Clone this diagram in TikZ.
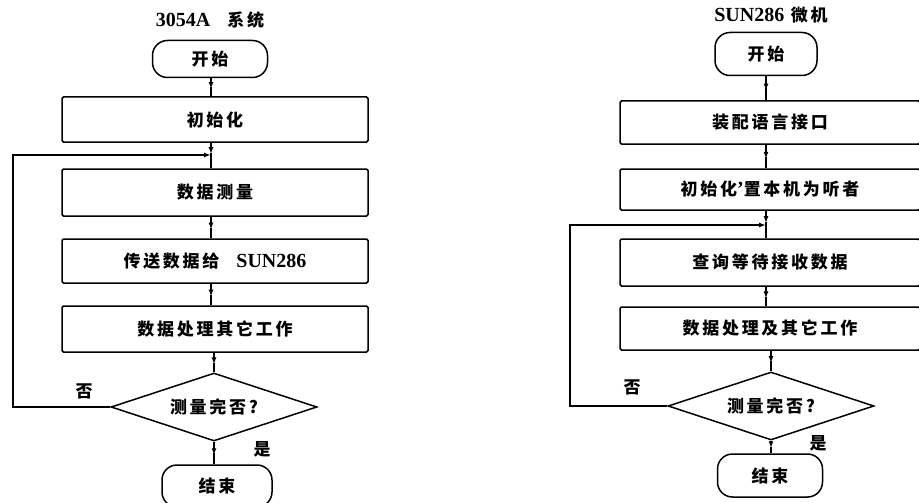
\documentclass[tikz,border=0pt]{standalone}
\usepackage{fontspec}
\setmainfont{Liberation Serif}
\newfontfamily\cjk{Noto Sans CJK SC}[LetterSpace=16]
\newcommand\lat{\rmfamily\bfseries\fontsize{20}{22}\selectfont}
\usetikzlibrary{shapes.geometric,arrows.meta,calc}
\begin{document}
\begin{tikzpicture}[x=1pt,y=-1pt,
  lw/.style={line width=1.5pt},
  txt/.style={font=\cjk\bfseries\fontsize{17}{19}\selectfont, inner sep=1pt},
  term/.style={txt, draw, lw, rounded corners=15pt},
  box/.style={txt, draw, lw, rounded corners=1.5pt},
  dec/.style={txt, draw, lw, shape=diamond, shape aspect=3, inner sep=2pt,
              minimum width=206pt, minimum height=68pt},
  half/.style={lw, -{Latex[length=7pt,width=5pt]}},
  loop/.style={lw, -{Latex[length=7pt,width=5pt]}},
  lbl/.style={font=\cjk\bfseries\fontsize{17}{19}\selectfont, inner sep=0pt},
  ttl/.style={font=\cjk\bfseries\fontsize{17}{19}\selectfont, inner sep=0pt}]
\useasboundingbox (0,0) rectangle (919,503);

% ---------------- left flowchart ----------------
\node[ttl] (LT) at (210,20) {{\lat 3054A}\quad 系统};
\node[term, minimum width=115pt, minimum height=37pt] (L0) at (210,59) {开始};
\node[box, minimum width=306pt, minimum height=45pt] (L1) at (215,119.5) {初始化};
\node[box, minimum width=306pt, minimum height=47pt] (L2) at (215,192.5) {数据测量};
\node[box, minimum width=306pt, minimum height=44pt] (L3) at (215,261) {传送数据给\quad{\lat SUN286}};
\node[box, minimum width=306pt, minimum height=46pt] (L4) at (215,329) {数据处理其它工作};
\node[dec] (L5) at (214,407) {测量完否?};
\node[term, minimum width=110pt, minimum height=42pt] (L6) at (217,486) {结束};
\node[lbl] (Lno) at (84,391) {否};
\node[lbl] (Lyes) at (262,449) {是};
\coordinate (LJ) at (211,155);
\coordinate (LC1) at (13,155);

\draw[half] (L0.south -| LJ) -- ($(L0.south -| LJ)!0.6!(L1.north -| LJ)$);
\draw[lw] ($(L0.south -| LJ)!0.5!(L1.north -| LJ)$) -- (L1.north -| LJ);
\draw[half] (L1.south -| LJ) -- ($(L1.south -| LJ)!0.45!(L2.north -| LJ)$);
\draw[lw] ($(L1.south -| LJ)!0.4!(L2.north -| LJ)$) -- (L2.north -| LJ);
\draw[half] (L2.south -| LJ) -- ($(L2.south -| LJ)!0.6!(L3.north -| LJ)$);
\draw[lw] ($(L2.south -| LJ)!0.5!(L3.north -| LJ)$) -- (L3.north -| LJ);
\draw[half] (L3.south -| LJ) -- ($(L3.south -| LJ)!0.6!(L4.north -| LJ)$);
\draw[lw] ($(L3.south -| LJ)!0.5!(L4.north -| LJ)$) -- (L4.north -| LJ);
\draw[half] (L4.south -| L5.north) -- ($(L4.south -| L5.north)!0.6!(L5.north)$);
\draw[lw] ($(L4.south -| L5.north)!0.5!(L5.north)$) -- (L5.north);
\draw[half] (L5.south) -- ($(L5.south)!0.6!(L5.south |- L6.north)$);
\draw[lw] ($(L5.south)!0.5!(L5.south |- L6.north)$) -- (L5.south |- L6.north);
\draw[loop] (L5.west) -- (L5.west -| LC1) -- (LC1) -- (LJ);

% ---------------- right flowchart ----------------
\node[ttl] (RT) at (771,15) {{\lat SUN286} 微机};
\node[term, minimum width=102pt, minimum height=43pt] (R0) at (766,54) {开始};
\node[box, minimum width=300pt, minimum height=43pt] (R1) at (770,122.5) {装配语言接口};
\node[box, minimum width=300pt, minimum height=41pt] (R2) at (770,189.5) {初始化{\lat '}置本机为听者};
\node[box, minimum width=300pt, minimum height=47pt] (R3) at (770,262.5) {查询等待接收数据};
\node[box, minimum width=300pt, minimum height=43pt] (R4) at (770,328.5) {数据处理及其它工作};
\node[dec] (R5) at (771,406) {测量完否?};
\node[term, minimum width=105pt, minimum height=43pt] (R6) at (770,475.5) {结束};
\node[lbl] (Rno) at (632,387) {否};
\node[lbl] (Ryes) at (818,443) {是};
\coordinate (RJ) at (766,225);
\coordinate (RC1) at (570,225);

\draw[half] (R0.south -| RJ) -- ($(R0.south -| RJ)!0.6!(R1.north -| RJ)$);
\draw[lw] ($(R0.south -| RJ)!0.5!(R1.north -| RJ)$) -- (R1.north -| RJ);
\draw[half] (R1.south -| RJ) -- ($(R1.south -| RJ)!0.6!(R2.north -| RJ)$);
\draw[lw] ($(R1.south -| RJ)!0.5!(R2.north -| RJ)$) -- (R2.north -| RJ);
\draw[half] (R2.south -| RJ) -- ($(R2.south -| RJ)!0.45!(R3.north -| RJ)$);
\draw[lw] ($(R2.south -| RJ)!0.4!(R3.north -| RJ)$) -- (R3.north -| RJ);
\draw[half] (R3.south -| RJ) -- ($(R3.south -| RJ)!0.6!(R4.north -| RJ)$);
\draw[lw] ($(R3.south -| RJ)!0.5!(R4.north -| RJ)$) -- (R4.north -| RJ);
\draw[half] (R4.south -| R5.north) -- ($(R4.south -| R5.north)!0.6!(R5.north)$);
\draw[lw] ($(R4.south -| R5.north)!0.5!(R5.north)$) -- (R5.north);
\draw[half] (R5.south) -- ($(R5.south)!0.6!(R5.south |- R6.north)$);
\draw[lw] ($(R5.south)!0.5!(R5.south |- R6.north)$) -- (R5.south |- R6.north);
\draw[loop] (R5.west) -- (R5.west -| RC1) -- (RC1) -- (RJ);
\end{tikzpicture}
\end{document}
